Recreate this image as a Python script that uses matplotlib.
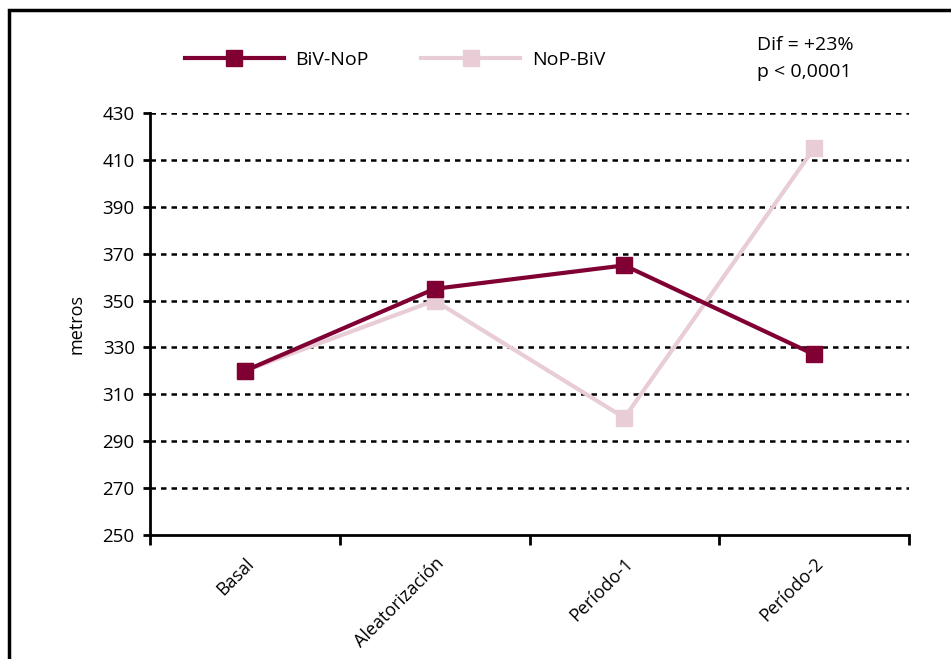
import matplotlib.pyplot as plt
from matplotlib.patches import Rectangle

plt.rcParams['font.family'] = ['Open Sans', 'DejaVu Sans']

etapas = ['Basal', 'Aleatorización', 'Período-1', 'Período-2']
biv_nop = [320, 355, 365, 327]
nop_biv = [320, 350, 300, 415]

oscuro = '#800033'
claro = '#e8ccd6'

fig = plt.figure(figsize=(9.51, 6.59), dpi=100)
ax = fig.add_axes([150 / 951, 124 / 659, 759 / 951, 422 / 659])

x = range(len(etapas))
ax.plot(x, biv_nop, color=oscuro, lw=3, marker='s', ms=12, label='BiV-NoP', zorder=4)
ax.plot(x, nop_biv, color=claro, lw=3, marker='s', ms=12, label='NoP-BiV', zorder=3)

ax.set_xlim(-0.5, 3.5)
ax.set_ylim(250, 430)
ax.set_yticks(range(250, 431, 20))
for v in range(270, 431, 20):
    ax.axhline(v, color='black', lw=1.8, ls=(0, (2.2, 2.0)), zorder=1)

ax.set_xticks(list(x))
ax.set_xticklabels(etapas, rotation=45, ha='right', rotation_mode='anchor', fontsize=13)
ax.set_xticks([-0.5, 0.5, 1.5, 2.5, 3.5], minor=True)
ax.tick_params(axis='x', which='major', length=0, pad=14)
ax.tick_params(axis='x', which='minor', length=7, width=2, direction='out')
ax.tick_params(axis='y', length=5, width=2, labelsize=13.5, pad=6)

for lado in ['top', 'right']:
    ax.spines[lado].set_visible(False)
for lado in ['left', 'bottom']:
    ax.spines[lado].set_linewidth(2)

ax.set_ylabel('metros', fontsize=13, labelpad=12)

fig.legend(loc='center left', bbox_to_anchor=(167 / 951, 1 - 60 / 659), ncol=2,
           frameon=False, fontsize=14, handlelength=5.1, columnspacing=2.7,
           handletextpad=0.6)
fig.text(757 / 951, 1 - 45 / 659, 'Dif = +23%', fontsize=14, va='center')
fig.text(757 / 951, 1 - 72 / 659, 'p < 0,0001', fontsize=14, va='center')

fig.patches.append(Rectangle((9 / 951, -0.1), 1.2, 1 - 10 / 659 + 0.1,
                             transform=fig.transFigure, fill=False,
                             edgecolor='black', lw=2.5))

fig.savefig('out.png', dpi=100)
